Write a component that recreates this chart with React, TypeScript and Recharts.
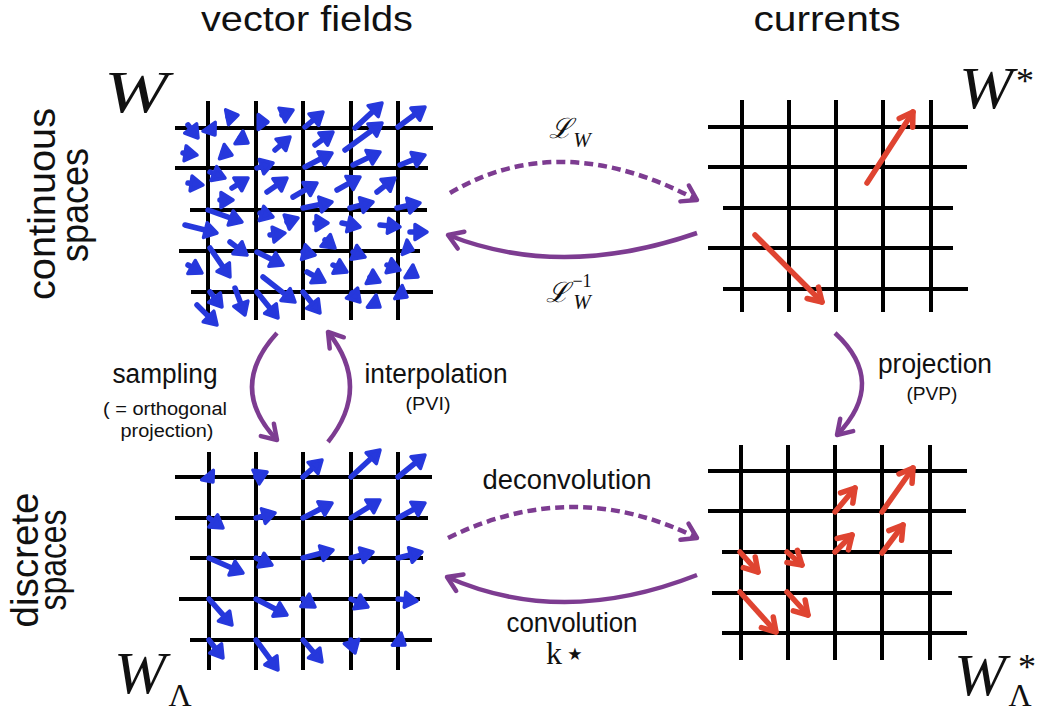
import React from 'react'
import { ScatterChart, Scatter, XAxis, YAxis, ReferenceLine } from 'recharts'

const CHART_W = 1042
const CHART_H = 715
const X_DOMAIN: [number, number] = [0, 1042]
const Y_DOMAIN: [number, number] = [0, 715]
// pixels per data unit (chart has no margins, so this is the axis scale slope)
const SX = CHART_W / (X_DOMAIN[1] - X_DOMAIN[0])
const SY = CHART_H / (Y_DOMAIN[1] - Y_DOMAIN[0])

const BLUE = '#2638dc'
const RED = '#df4431'
const PURPLE = '#7d3c91'

// ---- grids (one per panel) ----
const tlCols = [208, 256, 303, 351, 398]
const tlColSpan = [101, 320]
const tlRows = [128, 168, 210, 251, 292]
const tlRowStart = [175, 175, 190, 179, 191]
const tlRowEnd = [433, 428, 427, 420, 433]

const trCols = [742, 789, 836, 883, 931]
const trColSpan = [100, 312]
const trRows = [127, 167, 208, 248, 289]
const trRowStart = [708, 708, 723, 708, 723]
const trRowEnd = [968, 967, 953, 953, 968]

const blCols = [209, 256, 303, 351, 398]
const blColSpan = [452, 670]
const blRows = [477, 518, 558, 599, 640]
const blRowStart = [175, 175, 190, 179, 190]
const blRowEnd = [432, 428, 423, 420, 432]

const brCols = [741, 788, 835, 882, 930]
const brColSpan = [445, 660]
const brRows = [471, 511, 552, 593, 633]
const brRowStart = [708, 708, 722, 712, 722]
const brRowEnd = [967, 966, 952, 952, 967]

// ---- vectors: [x, y, xEnd, yEnd] ----
const continuousField = [
  [188, 125, 198, 138], [210, 128, 215, 135], [228, 117, 238, 115], [260, 122, 268, 122],
  [282, 115, 293, 110], [305, 127, 323, 112], [355, 128, 382, 103], [398, 127, 425, 107],
  [183, 153, 197, 155], [223, 152, 232, 155], [240, 138, 248, 143], [275, 150, 290, 137],
  [315, 145, 333, 132], [345, 150, 382, 123], [353, 165, 380, 152], [400, 165, 425, 155],
  [305, 167, 332, 153], [257, 168, 273, 163],
  [188, 183, 203, 185], [210, 172, 225, 178], [220, 200, 233, 200], [232, 188, 248, 178],
  [267, 192, 287, 178], [293, 197, 317, 183], [337, 190, 360, 177], [377, 192, 395, 178],
  [303, 208, 332, 202], [350, 208, 373, 202], [397, 208, 420, 203],
  [185, 225, 217, 233], [208, 210, 242, 222], [260, 213, 273, 217], [270, 235, 285, 233],
  [287, 222, 298, 218], [315, 223, 328, 223], [325, 240, 335, 248], [342, 223, 360, 227],
  [380, 225, 400, 227], [410, 232, 427, 232], [230, 242, 247, 255],
  [188, 265, 202, 273], [210, 248, 230, 277], [257, 252, 283, 265], [303, 252, 315, 255],
  [307, 272, 325, 282], [333, 265, 347, 272], [353, 252, 365, 257], [370, 277, 380, 282],
  [387, 265, 400, 270], [407, 248, 413, 250], [410, 272, 418, 277],
  [197, 305, 217, 325], [210, 292, 222, 307], [235, 288, 245, 315], [257, 292, 278, 318],
  [263, 277, 295, 302], [303, 292, 320, 313], [352, 293, 360, 302], [373, 302, 380, 307],
  [400, 293, 407, 297],
]

const sampledField = [
  [209, 477, 213, 482], [256, 477, 267, 472], [303, 477, 322, 460], [351, 477, 380, 450], [398, 477, 425, 455],
  [209, 518, 223, 528], [256, 518, 275, 513], [303, 518, 332, 503], [351, 518, 380, 500], [398, 518, 425, 503],
  [209, 558, 243, 573], [256, 558, 272, 565], [303, 558, 333, 550], [351, 558, 373, 552], [398, 558, 422, 552],
  [209, 599, 232, 625], [256, 599, 287, 615], [303, 599, 315, 607], [351, 599, 368, 607], [398, 599, 417, 601],
  [209, 640, 223, 658], [256, 640, 278, 670], [303, 640, 322, 662], [351, 640, 355, 653], [398, 640, 405, 645],
]

const continuousCurrents = [
  [867, 183, 913, 112], [755, 235, 822, 302],
]

const discreteCurrents = [
  [835, 512, 855, 488], [882, 512, 913, 468], [835, 552, 852, 535], [882, 553, 903, 525],
  [740, 552, 758, 572], [787, 552, 802, 565], [740, 592, 776, 632], [787, 592, 808, 615],
]

// ---- curved operator arrows: start, apex, end, dashed ----
const arcStart = [[450, 193], [697, 233], [448, 538], [697, 575], [277, 333], [328, 442], [835, 333]]
const arcApex = [[567, 162], [567, 257], [573, 507], [567, 602], [252, 387], [350, 387], [862, 383]]
const arcEnd = [[697, 200], [448, 235], [697, 538], [447, 577], [277, 440], [328, 332], [837, 435]]
const arcDashed = [true, false, true, false, false, false, false]

// ---- text ----
type Label = { x: number; y: number; text: string; kind: string; len?: number }
const labels: Label[] = [
  { x: 307, y: 31, text: 'vector fields', kind: 'heading', len: 212 },
  { x: 827, y: 31, text: 'currents', kind: 'heading', len: 147 },
  { x: 55, y: 204, text: 'continuous', kind: 'side', len: 192 },
  { x: 88, y: 205, text: 'spaces', kind: 'side', len: 114 },
  { x: 38, y: 560, text: 'discrete', kind: 'side', len: 135 },
  { x: 66, y: 560, text: 'spaces', kind: 'side', len: 101 },
  { x: 165, y: 383, text: 'sampling', kind: 'op', len: 105 },
  { x: 165, y: 415, text: '( = orthogonal', kind: 'note', len: 124 },
  { x: 167, y: 437, text: 'projection)', kind: 'note', len: 93 },
  { x: 436, y: 383, text: 'interpolation', kind: 'op', len: 143 },
  { x: 428, y: 410, text: '(PVI)', kind: 'note', len: 45 },
  { x: 935, y: 373, text: 'projection', kind: 'op', len: 114 },
  { x: 932, y: 400, text: '(PVP)', kind: 'note', len: 51 },
  { x: 567, y: 489, text: 'deconvolution', kind: 'op', len: 169 },
  { x: 572, y: 632, text: 'convolution', kind: 'op', len: 131 },
]

const mathLabels: Label[] = [
  { x: 136, y: 112, text: 'W', kind: 'W', len: 64 },
  { x: 986, y: 108, text: 'W', kind: 'W', len: 54 },
  { x: 1025, y: 93, text: '*', kind: 'star' },
  { x: 140, y: 693, text: 'W', kind: 'W', len: 52 },
  { x: 180, y: 706, text: 'Λ', kind: 'sub' },
  { x: 980, y: 695, text: 'W', kind: 'W', len: 52 },
  { x: 1027, y: 679, text: '*', kind: 'star' },
  { x: 1020, y: 706, text: 'Λ', kind: 'sub' },
  { x: 560, y: 138, text: 'ℒ', kind: 'script' },
  { x: 582, y: 147, text: 'W', kind: 'idx' },
  { x: 557, y: 302, text: 'ℒ', kind: 'script' },
  { x: 582, y: 287, text: '−1', kind: 'exp' },
  { x: 582, y: 309, text: 'W', kind: 'idx' },
  { x: 554, y: 664, text: 'k', kind: 'k' },
  { x: 575, y: 653, text: '⋆', kind: 'kstar' },
]

const SANS = '"Liberation Sans", Arial, Helvetica, sans-serif'
const SERIF = '"Liberation Serif", "Times New Roman", serif'

const labelStyle: Record<string, React.SVGProps<SVGTextElement>> = {
  heading: { fontFamily: SANS, fontSize: 35 },
  side: { fontFamily: SANS, fontSize: 38 },
  op: { fontFamily: SANS, fontSize: 27 },
  note: { fontFamily: SANS, fontSize: 18 },
  W: { fontFamily: SERIF, fontSize: 60, fontStyle: 'italic' },
  star: { fontFamily: SERIF, fontSize: 36 },
  sub: { fontFamily: SERIF, fontSize: 32 },
  script: { fontFamily: '"DejaVu Serif", serif', fontSize: 28, fontStyle: 'italic' },
  idx: { fontFamily: SERIF, fontSize: 21, fontStyle: 'italic' },
  exp: { fontFamily: SERIF, fontSize: 18 },
  k: { fontFamily: SERIF, fontSize: 32 },
  kstar: { fontFamily: '"DejaVu Sans", sans-serif', fontSize: 34, dominantBaseline: 'central' },
}

const toVec = (rows: number[][]) => rows.map(([x, y, x2, y2]) => ({ x, y, x2, y2 }))

const arcs = arcStart.map(([x, y], i) => ({
  x, y,
  mx: arcApex[i][0], my: arcApex[i][1],
  x2: arcEnd[i][0], y2: arcEnd[i][1],
  dashed: arcDashed[i],
}))

const panels = [
  { cols: tlCols, span: tlColSpan, rows: tlRows, start: tlRowStart, end: tlRowEnd },
  { cols: trCols, span: trColSpan, rows: trRows, start: trRowStart, end: trRowEnd },
  { cols: blCols, span: blColSpan, rows: blRows, start: blRowStart, end: blRowEnd },
  { cols: brCols, span: brColSpan, rows: brRows, start: brRowStart, end: brRowEnd },
]

const segments = panels.flatMap(p => [
  ...p.cols.map(x => [{ x, y: p.span[0] }, { x, y: p.span[1] }]),
  ...p.rows.map((y, i) => [{ x: p.start[i], y }, { x: p.end[i], y }]),
])

function headPoints(ex: number, ey: number, ux: number, uy: number, len: number, half: number) {
  const bx = ex - ux * len
  const by = ey - uy * len
  return `${ex},${ey} ${bx - uy * half},${by + ux * half} ${bx + uy * half},${by - ux * half}`
}

function BlueArrow(props: any) {
  const { cx, cy, payload } = props
  const ex = cx + (payload.x2 - payload.x) * SX
  const ey = cy + (payload.y2 - payload.y) * SY
  const dx = ex - cx, dy = ey - cy
  const len = Math.hypot(dx, dy) || 1
  const ux = dx / len, uy = dy / len
  const hl = Math.min(12, len * 0.6 + 5)
  return (
    <g>
      <line x1={cx} y1={cy} x2={ex - ux * hl * 0.6} y2={ey - uy * hl * 0.6} stroke={BLUE} strokeWidth={5.5} strokeLinecap="round" />
      <polygon points={headPoints(ex, ey, ux, uy, hl, 7.5)} fill={BLUE} stroke={BLUE} strokeWidth={3.5} strokeLinejoin="round" />
    </g>
  )
}

function RedArrow(props: any) {
  const { cx, cy, payload } = props
  const ex = cx + (payload.x2 - payload.x) * SX
  const ey = cy + (payload.y2 - payload.y) * SY
  const dx = ex - cx, dy = ey - cy
  const len = Math.hypot(dx, dy) || 1
  const ux = dx / len, uy = dy / len
  const a = 13, h = 8
  const bx = ex - ux * a, by = ey - uy * a
  return (
    <g stroke={RED} strokeWidth={5.5} strokeLinecap="round" strokeLinejoin="round" fill="none">
      <line x1={cx} y1={cy} x2={ex} y2={ey} />
      <polyline points={`${bx - uy * h},${by + ux * h} ${ex},${ey} ${bx + uy * h},${by - ux * h}`} />
    </g>
  )
}

function ArcArrow(props: any) {
  const { cx, cy, payload } = props
  const p = payload
  const ex = cx + (p.x2 - p.x) * SX
  const ey = cy + (p.y2 - p.y) * SY
  const mx = cx + (p.mx - p.x) * SX
  const my = cy + (p.my - p.y) * SY
  const kx = 2 * mx - (cx + ex) / 2
  const ky = 2 * my - (cy + ey) / 2
  const tx = ex - kx, ty = ey - ky
  const tl = Math.hypot(tx, ty) || 1
  const ux = tx / tl, uy = ty / tl
  const a = 14, h = 9
  const bx = ex - ux * a, by = ey - uy * a
  return (
    <g stroke={PURPLE} strokeWidth={4.5} fill="none">
      <path d={`M${cx},${cy} Q${kx},${ky} ${ex},${ey}`} strokeDasharray={p.dashed ? '9 5' : undefined} />
      <polyline points={`${bx - uy * h},${by + ux * h} ${ex},${ey} ${bx + uy * h},${by - ux * h}`} strokeLinecap="round" strokeLinejoin="round" />
    </g>
  )
}

function TextMark(props: any) {
  const { cx, cy, payload } = props
  const st = labelStyle[payload.kind] || {}
  const fit = payload.len ? { textLength: payload.len, lengthAdjust: 'spacingAndGlyphs' as const } : {}
  const rotate = payload.kind === 'side' ? `rotate(-90 ${cx} ${cy})` : undefined
  return (
    <text x={cx} y={cy} textAnchor="middle" fill="#111" transform={rotate} {...st} {...fit}>
      {payload.text}
    </text>
  )
}

export default function App() {
  return (
    <div style={{ position: 'absolute', left: 0, top: 0, width: CHART_W, height: CHART_H, background: '#fff' }}>
      <ScatterChart width={CHART_W} height={CHART_H} margin={{ top: 0, right: 0, bottom: 0, left: 0 }}>
        <XAxis type="number" dataKey="x" domain={X_DOMAIN} allowDataOverflow hide />
        <YAxis type="number" dataKey="y" domain={Y_DOMAIN} allowDataOverflow reversed hide />
        {segments.map((s, i) => (
          <ReferenceLine key={i} segment={s} stroke="#000" strokeWidth={4} ifOverflow="visible" />
        ))}
        <Scatter data={arcs} shape={ArcArrow} isAnimationActive={false} />
        <Scatter data={toVec(continuousField)} shape={BlueArrow} isAnimationActive={false} />
        <Scatter data={toVec(sampledField)} shape={BlueArrow} isAnimationActive={false} />
        <Scatter data={toVec(continuousCurrents)} shape={RedArrow} isAnimationActive={false} />
        <Scatter data={toVec(discreteCurrents)} shape={RedArrow} isAnimationActive={false} />
        <Scatter data={labels} shape={TextMark} isAnimationActive={false} />
        <Scatter data={mathLabels} shape={TextMark} isAnimationActive={false} />
      </ScatterChart>
    </div>
  )
}
